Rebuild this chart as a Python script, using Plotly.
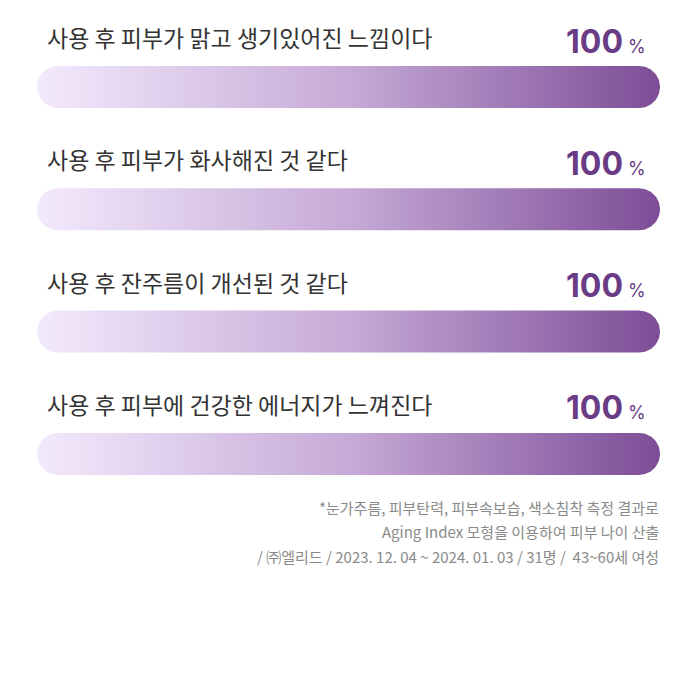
import numpy as np
import plotly.graph_objects as go

# ---- data ----
categories = [
    "사용 후 피부가 맑고 생기있어진 느낌이다",
    "사용 후 피부가 화사해진 것 같다",
    "사용 후 잔주름이 개선된 것 같다",
    "사용 후 피부에 건강한 에너지가 느껴진다",
]
values = [100, 100, 100, 100]
footnotes = [
    "*눈가주름, 피부탄력, 피부속보습, 색소침착 측정 결과로",
    "Aging Index 모형을 이용하여 피부 나이 산출",
    "/ ㈜엘리드 / 2023. 12. 04 ~ 2024. 01. 03 / 31명 /  43~60세 여성",
]

# ---- layout constants (pixels) ----
W, H = 700, 678
ML, MR = 37, 40
PLOT_W = W - ML - MR
ROW0, PITCH = 87.0, 122.3
BAR_HALF_PX = 21.0
XMAX = 100.0

x_per_px = XMAX / PLOT_W
y_per_px = 1.0 / PITCH
y_top = (0 - ROW0) / PITCH
y_bot = (H - ROW0) / PITCH

KFONT = "Noto Sans CJK KR"

def pill(x0, x1, yc):
    rx = BAR_HALF_PX * x_per_px
    ry = BAR_HALF_PX * y_per_px
    t1 = np.linspace(-np.pi / 2, np.pi / 2, 40)
    t2 = np.linspace(np.pi / 2, 3 * np.pi / 2, 40)
    xs = np.concatenate([x1 - rx + rx * np.cos(t1), x0 + rx + rx * np.cos(t2)])
    ys = np.concatenate([yc + ry * np.sin(t1), yc + ry * np.sin(t2)])
    xs = np.append(xs, xs[0])
    ys = np.append(ys, ys[0])
    return xs, ys

fig = go.Figure()
scale = [[0.0, "#F3E9FC"], [0.5, "#C6AAD7"], [1.0, "#7D4D97"]]
for i, v in enumerate(values):
    xs, ys = pill(0, v, i)
    fig.add_trace(go.Scatter(
        x=xs, y=ys, mode="lines", fill="toself",
        fillgradient=dict(type="horizontal", colorscale=scale),
        line=dict(width=0), hoverinfo="skip", showlegend=False,
    ))

annotations = []
for i, (cat, v) in enumerate(zip(categories, values)):
    annotations.append(dict(
        text=cat, xref="paper", yref="y", x=0, y=i, xanchor="left",
        yanchor="middle", xshift=8, yshift=50, showarrow=False,
        font=dict(family=KFONT, size=23, color="#333333"),
    ))
    annotations.append(dict(
        text=f"<b>{v}</b><span style='font-size:18px'> %</span>",
        xref="paper", yref="y", x=1, y=i, xanchor="right",
        yanchor="middle", xshift=-12, yshift=46, showarrow=False,
        font=dict(family="Inter", size=32, color="#6A3C86"),
    ))

foot_y = [507, 531.5, 556]
for line, py in zip(footnotes, foot_y):
    annotations.append(dict(
        text=line, xref="paper", yref="paper", x=1, y=1 - py / H,
        xanchor="right", yanchor="middle", xshift=1, showarrow=False,
        font=dict(family=KFONT, size=15, color="#8A8A8A"),
    ))

fig.update_layout(
    width=W, height=H,
    margin=dict(l=ML, r=MR, t=0, b=0),
    paper_bgcolor="white", plot_bgcolor="white",
    xaxis=dict(range=[0, XMAX], visible=False, fixedrange=True),
    yaxis=dict(range=[y_bot, y_top], visible=False, fixedrange=True),
    annotations=annotations,
)

fig.write_html("out.html")
